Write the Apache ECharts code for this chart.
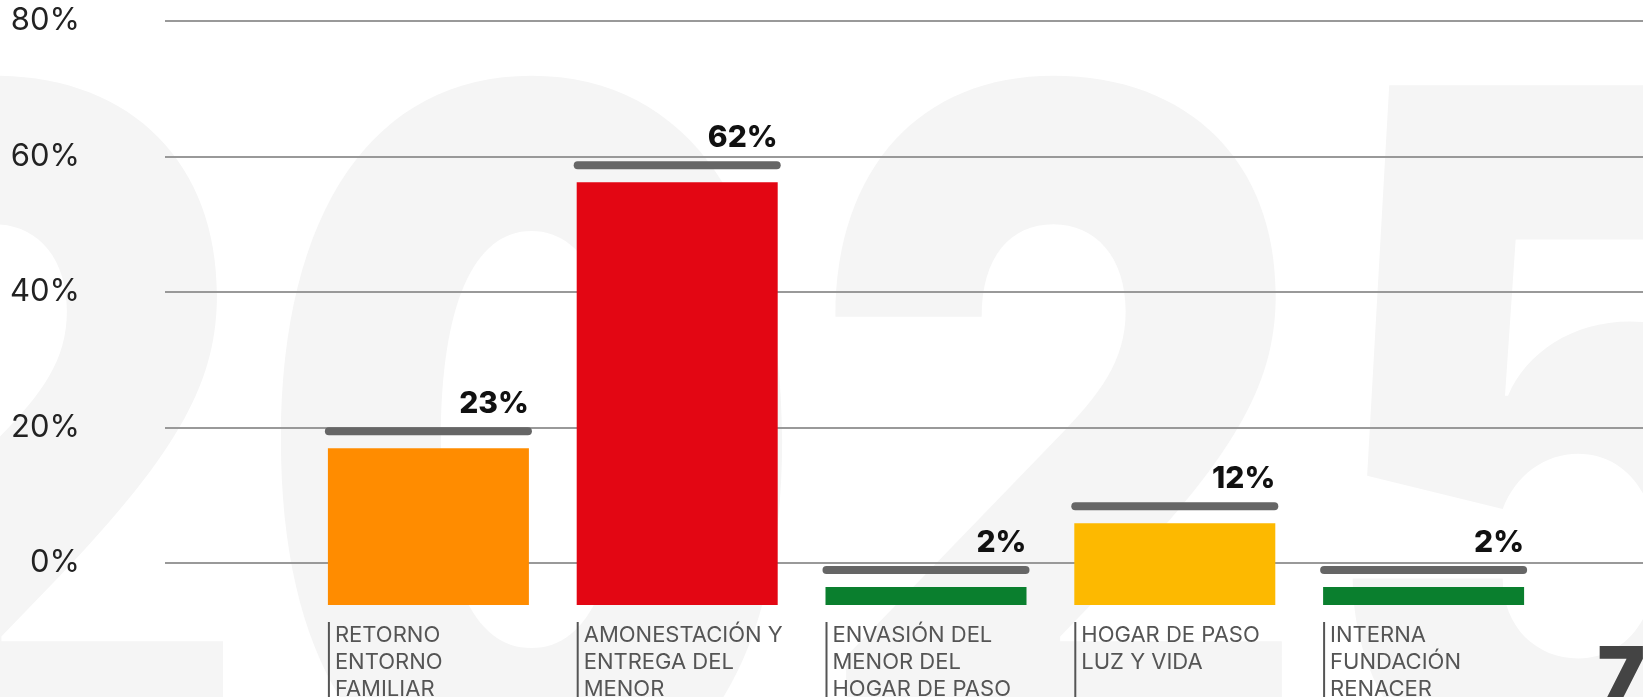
<!DOCTYPE html>
<html>
<head>
<meta charset="utf-8">
<script src="https://cdn.jsdelivr.net/npm/echarts@6/dist/echarts.min.js"></script>
<style>
  html, body { margin: 0; padding: 0; background: #fff; }
  #chart { width: 1643px; height: 697px; }
</style>
</head>
<body>
<div id="chart"></div>
<script>
// datos
var categories = [
    'RETORNO\nENTORNO\nFAMILIAR',
    'AMONESTACIÓN Y\nENTREGA DEL\nMENOR',
    'ENVASIÓN DEL\nMENOR DEL\nHOGAR DE PASO',
    'HOGAR DE PASO\nLUZ Y VIDA',
    'INTERNA\nFUNDACIÓN\nRENACER'
]
var values = [23, 62, 2, 12, 2]
var yTicks = [0, 20, 40, 60, 80]

var barColors = ['#FF8C00', '#E30613', '#0A7F2E', '#FDB900', '#0A7F2E']
var barW = 201
var minBar = 18
var capGap = 17

let myChart = echarts.init(document.getElementById('chart'))

function labelText(value) {
    let lines = value.split('\n')
    while (lines.length < 3) lines.push('')
    return lines.map(function (l) {
        return l ? '{l|}{t|' + l + '}' : '{l|}'
    }).join('\n')
}

function renderCap(params, api) {
    let i = api.value(0), v = api.value(1)
    let top = api.coord([i, v])
    let base = api.coord([i, 0])
    let y = Math.min(top[1], base[1] - minBar) - capGap
    let w = barW + 6
    let x = top[0] - w / 2
    return {
        type: 'group',
        children: [{
            type: 'rect',
            shape: {x: x, y: y - 4, width: w, height: 8, r: 4},
            style: {fill: '#666'}
        }, {
            type: 'text',
            style: {
                text: v + '%',
                x: x + w - 3,
                y: y - 27,
                align: 'right',
                verticalAlign: 'middle',
                fontSize: 30,
                fontWeight: 800,
                fontFamily: 'Inter',
                fill: '#111'
            }
        }]
    }
}

let option = {
    backgroundColor: '#fff',
    animation: false,
    textStyle: {fontFamily: 'Inter'},
    graphic: {
        elements: [{
            type: 'text',
            z: -100,
            x: -250,
            y: 14,
            scaleX: 1,
            scaleY: 1.25,
            silent: true,
            style: {
                text: '2025',
                fontSize: 780,
                fontWeight: 900,
                fontFamily: 'Inter',
                letterSpacing: -20,
                verticalAlign: 'top',
                fill: '#f5f5f5'
            }
        }, {
            type: 'text',
            right: -2,
            top: 640,
            silent: true,
            style: {
                text: '7',
                fontSize: 80,
                fontWeight: 900,
                fontFamily: 'Inter',
                fill: '#444'
            }
        }]
    },
    grid: [
        {left: 165, right: 0, top: 21, bottom: 134, outerBoundsMode: 'none'},
        {left: 304, right: 95, top: 59.4, bottom: 92, outerBoundsMode: 'none'}
    ],
    xAxis: [{
        gridIndex: 0,
        type: 'value',
        show: false
    }, {
        gridIndex: 1,
        type: 'category',
        data: categories,
        axisLine: {show: false},
        axisTick: {show: false},
        axisLabel: {
            interval: 0,
            margin: 17,
            width: barW,
            align: 'center',
            formatter: labelText,
            rich: {
                l: {width: 2, height: 27, lineHeight: 27, align: 'left', backgroundColor: '#555'},
                t: {fontSize: 22, lineHeight: 27, height: 27, align: 'left', color: '#555', fontFamily: 'Inter', padding: [0, 0, 0, 5]}
            }
        }
    }],
    yAxis: [{
        gridIndex: 0,
        type: 'value',
        min: yTicks[0],
        max: yTicks[yTicks.length - 1],
        interval: 20,
        axisLine: {show: false},
        axisTick: {show: false},
        axisLabel: {
            formatter: '{value}%',
            margin: 85,
            fontSize: 31,
            color: '#222',
            fontFamily: 'Inter'
        },
        splitLine: {lineStyle: {color: '#999', width: 2}}
    }, {
        gridIndex: 1,
        type: 'value',
        min: 0,
        max: 80,
        show: false,
        splitLine: {show: false}
    }],
    series: [{
        name: 'valor',
        type: 'bar',
        xAxisIndex: 1,
        yAxisIndex: 1,
        barWidth: barW,
        barMinHeight: minBar,
        data: values.map(function (v, i) {
            return {value: v, itemStyle: {color: barColors[i]}}
        }),
        z: 3
    }, {
        name: 'tope',
        type: 'custom',
        xAxisIndex: 1,
        yAxisIndex: 1,
        renderItem: renderCap,
        clip: false,
        encode: {x: 0, y: 1},
        data: values.map(function (v, i) { return [i, v] }),
        z: 4
    }]
}

myChart.setOption(option)
</script>
</body>
</html>
